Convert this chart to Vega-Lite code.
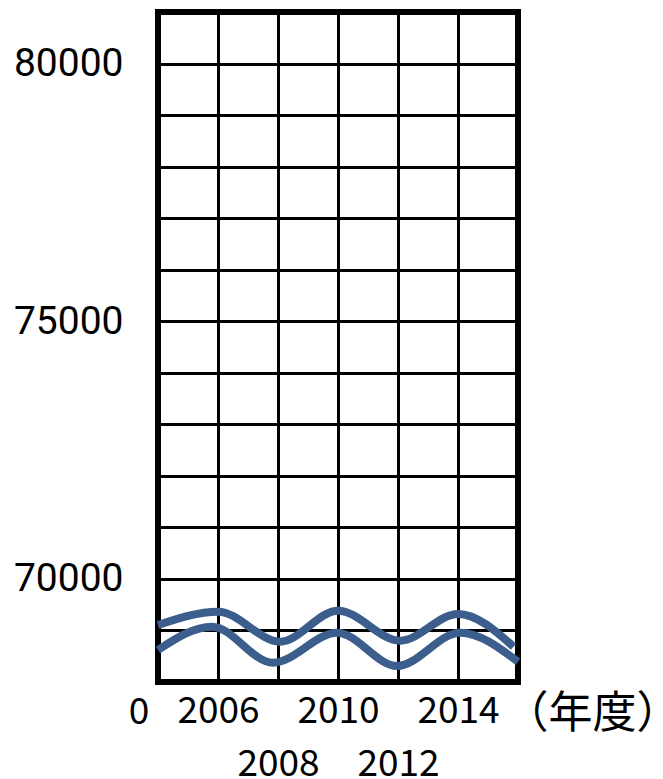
{
  "$schema": "https://vega.github.io/schema/vega-lite/v6.json",
  "width": 360,
  "height": 670,
  "autosize": "none",
  "padding": {"left": 158, "top": 12, "right": 145, "bottom": 97},
  "background": "white",
  "view": {"stroke": "black", "strokeWidth": 6},
  "data": {
    "values": [
      {"line": "a", "year": 2004.0, "value": 69107},
      {"line": "a", "year": 2006.0, "value": 69365},
      {"line": "a", "year": 2008.07, "value": 68783},
      {"line": "a", "year": 2010.0, "value": 69384},
      {"line": "a", "year": 2012.07, "value": 68802},
      {"line": "a", "year": 2014.0, "value": 69320},
      {"line": "a", "year": 2015.85, "value": 68685},
      {"line": "b", "year": 2004.0, "value": 68621},
      {"line": "b", "year": 2005.8, "value": 69074},
      {"line": "b", "year": 2007.83, "value": 68375},
      {"line": "b", "year": 2009.97, "value": 68957},
      {"line": "b", "year": 2011.97, "value": 68311},
      {"line": "b", "year": 2014.07, "value": 68957},
      {"line": "b", "year": 2016.0, "value": 68394}
    ]
  },
  "mark": {"type": "line", "interpolate": "monotone", "strokeWidth": 8, "strokeCap": "butt", "color": "#3B5E8C"},
  "encoding": {
    "detail": {"field": "line", "type": "nominal"},
    "x": {
      "field": "year",
      "type": "quantitative",
      "scale": {"domain": [2004, 2016], "nice": false, "zero": false},
      "axis": {
        "values": [2004, 2006, 2008, 2010, 2012, 2014, 2016],
        "format": "d",
        "labelExpr": "datum.value == 2004 || datum.value == 2016 ? '' : datum.label",
        "labelPadding": {"condition": {"test": "datum.value % 4 == 0", "value": 64}, "value": 11},
        "labelOverlap": false,
        "labelFlush": false,
        "labelBound": false,
        "labelFont": "Noto Sans CJK JP",
        "labelFontSize": 37,
        "labelColor": "black",
        "ticks": false,
        "tickSize": 0,
        "domain": false,
        "grid": true,
        "gridColor": "black",
        "gridWidth": 3,
        "gridOpacity": 1,
        "title": "（年度）",
        "titleFont": "Noto Sans CJK JP",
        "titleFontSize": 44,
        "titleFontWeight": "normal",
        "titleColor": "black",
        "titleX": 346,
        "titleY": 45,
        "titleAlign": "left",
        "titleBaseline": "alphabetic"
      }
    },
    "y": {
      "field": "value",
      "type": "quantitative",
      "scale": {"domain": [68000, 81000], "nice": false, "zero": false},
      "axis": {
        "values": [68000, 69000, 70000, 71000, 72000, 73000, 74000, 75000, 76000, 77000, 78000, 79000, 80000, 81000],
        "format": "d",
        "labelExpr": "datum.value % 5000 == 0 ? datum.label : ''",
        "labelPadding": 35,
        "labelOverlap": false,
        "labelFlush": false,
        "labelBound": false,
        "labelFont": "Roboto",
        "labelFontSize": 39,
        "labelColor": "black",
        "ticks": false,
        "tickSize": 0,
        "domain": false,
        "grid": true,
        "gridColor": "black",
        "gridWidth": 3,
        "gridOpacity": 1,
        "title": "0",
        "titleAngle": 0,
        "titleFont": "Noto Sans CJK JP",
        "titleFontSize": 37,
        "titleFontWeight": "normal",
        "titleColor": "black",
        "titleX": -19.5,
        "titleY": 711,
        "titleAlign": "center",
        "titleBaseline": "alphabetic"
      }
    }
  }
}
